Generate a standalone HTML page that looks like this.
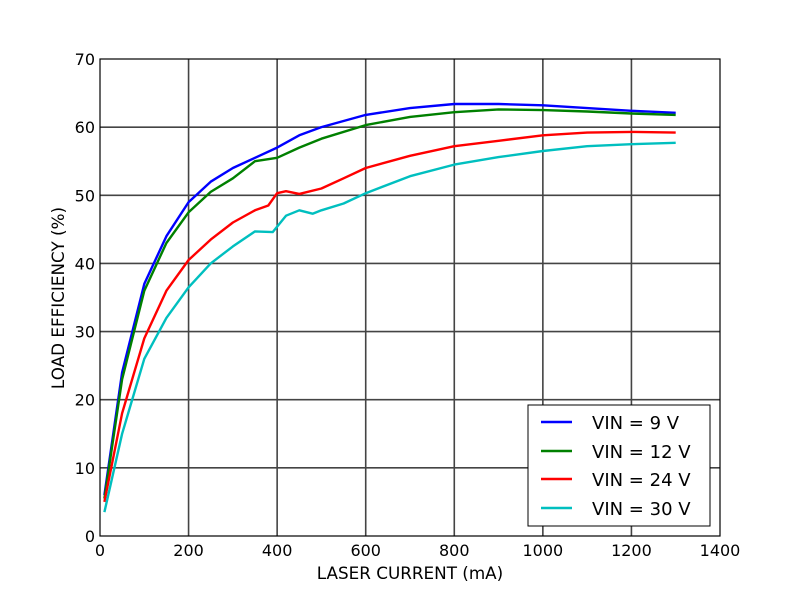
<!DOCTYPE html>
<html><head><meta charset="utf-8"><style>
html,body{margin:0;padding:0;background:#fff;}
svg text{font-family:"DejaVu Sans","Liberation Sans",sans-serif;fill:#000;}
</style></head><body>
<svg id="s" width="800" height="597" xmlns="http://www.w3.org/2000/svg">
<rect width="800" height="597" fill="#fff"/>
<g id="grid" stroke="#444" stroke-width="1.6"></g>
<g id="lines" fill="none" stroke-width="2.4" stroke-linejoin="round"></g>
<rect x="100" y="59" width="620" height="477" fill="none" stroke="#000" stroke-width="1.2"/>
<g id="ticks" font-size="16"></g>
<text x="410" y="579" font-size="16.8" text-anchor="middle">LASER CURRENT (mA)</text>
<text transform="translate(64,298) rotate(-90)" font-size="16.8" text-anchor="middle">LOAD EFFICIENCY (%)</text>
<g>
<rect x="528" y="405" width="182" height="121" fill="#fff" stroke="#000" stroke-width="1"/>
<line x1="541" y1="422" x2="572" y2="422" stroke="#0000ff" stroke-width="2.4"/>
<line x1="541" y1="451" x2="572" y2="451" stroke="#008000" stroke-width="2.4"/>
<line x1="541" y1="479" x2="572" y2="479" stroke="#ff0000" stroke-width="2.4"/>
<line x1="541" y1="508" x2="572" y2="508" stroke="#00bfbf" stroke-width="2.4"/>
<text x="592" y="429" font-size="18">VIN = 9 V</text>
<text x="592" y="458" font-size="18">VIN = 12 V</text>
<text x="592" y="486" font-size="18">VIN = 24 V</text>
<text x="592" y="515" font-size="18">VIN = 30 V</text>
</g>
</svg>
<script>
var X=function(v){return 100+v*620/1400},Y=function(v){return 536-v*477/70};
var g=document.getElementById('grid'),t=document.getElementById('ticks'),L=document.getElementById('lines');
var NS='http://www.w3.org/2000/svg';
function el(p,n,a,txt){var e=document.createElementNS(NS,n);for(var k in a)e.setAttribute(k,a[k]);if(txt!=null)e.textContent=txt;p.appendChild(e);return e;}
for(var i=0;i<=1400;i+=200){var x=X(i);if(i>0&&i<1400)el(g,'line',{x1:x,y1:59,x2:x,y2:536});el(t,'text',{x:x,y:556,'text-anchor':'middle'},i);}
for(var j=0;j<=70;j+=10){var y=Y(j);if(j>0&&j<70)el(g,'line',{x1:100,y1:y,x2:720,y2:y});el(t,'text',{x:95,y:y+6,'text-anchor':'end'},j);}
var D=[
['#0000ff',[[10,6],[50,24],[100,37],[150,44],[200,49],[250,52],[300,54],[350,55.5],[400,57],[450,58.8],[500,60],[600,61.8],[700,62.8],[800,63.4],[900,63.4],[1000,63.2],[1100,62.8],[1200,62.4],[1300,62.1]]],
['#008000',[[10,5.5],[50,23],[100,36],[150,43],[200,47.5],[250,50.5],[300,52.5],[350,55],[400,55.5],[450,57],[500,58.3],[600,60.3],[700,61.5],[800,62.2],[900,62.6],[1000,62.5],[1100,62.3],[1200,62],[1300,61.8]]],
['#ff0000',[[10,5],[50,18],[100,29],[150,36],[200,40.5],[250,43.5],[300,46],[350,47.8],[380,48.5],[400,50.3],[420,50.6],[450,50.2],[500,51],[550,52.5],[600,54],[700,55.8],[800,57.2],[900,58],[1000,58.8],[1100,59.2],[1200,59.3],[1300,59.2]]],
['#00bfbf',[[10,3.5],[50,15],[100,26],[150,32],[200,36.5],[250,40],[300,42.5],[350,44.7],[390,44.6],[420,47],[450,47.8],[480,47.3],[500,47.8],[550,48.8],[600,50.3],[700,52.8],[800,54.5],[900,55.6],[1000,56.5],[1100,57.2],[1200,57.5],[1300,57.7]]]
];
D.forEach(function(s){el(L,'polyline',{stroke:s[0],points:s[1].map(function(p){return X(p[0]).toFixed(1)+','+Y(p[1]).toFixed(1)}).join(' ')});});
</script>
</body></html>
